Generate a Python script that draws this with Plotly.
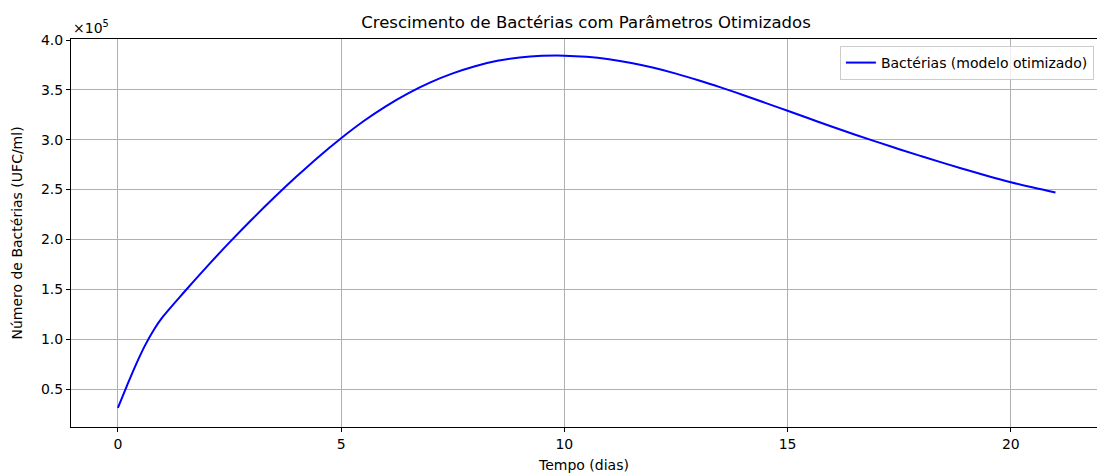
import plotly.graph_objects as go

# Data
days = [0, 0.2, 0.4, 0.6, 0.8, 1.0, 1.5, 2.0, 2.5, 3.0, 3.5, 4.0, 4.5, 5.0,
        5.5, 6.0, 6.5, 7.0, 7.5, 8.0, 8.5, 9.0, 9.5, 10.0, 10.5, 11.0, 11.5,
        12.0, 12.5, 13.0, 13.5, 14.0, 14.5, 15.0, 15.5, 16.0, 16.5, 17.0, 17.5,
        18.0, 18.5, 19.0, 19.5, 20.0, 20.5, 21.0]
bacteria = [31000, 53000, 74000, 93000, 109000, 122000, 148000, 173000, 197000,
            220000, 242000, 263000, 283000, 301500, 318500, 333500, 346500, 357500,
            366500, 373700, 379100, 382500, 384100, 384300, 383100, 380600, 376900,
            372100, 366300, 359700, 352500, 344900, 337000, 329000, 321000, 313000,
            305300, 297800, 290500, 283400, 276500, 269800, 263400, 257400, 252000,
            247000]

x_ticks = [0, 5, 10, 15, 20]
y_ticks = [50000, 100000, 150000, 200000, 250000, 300000, 350000, 400000]
y_tick_labels = ["0.5", "1.0", "1.5", "2.0", "2.5", "3.0", "3.5", "4.0"]

FONT = "DejaVu Sans"

fig = go.Figure()
fig.add_trace(go.Scatter(
    x=days, y=bacteria, mode="lines", line_shape="spline",
    name="Bactérias (modelo otimizado)",
    line=dict(color="#0000ff", width=2),
))

fig.update_layout(
    width=1097, height=475,
    margin=dict(l=71, r=0, t=39, b=48),
    paper_bgcolor="white", plot_bgcolor="white",
    font=dict(family=FONT, size=14, color="black"),
    title=dict(text="Crescimento de Bactérias com Parâmetros Otimizados",
               x=(586 / 1097), xanchor="center", y=1 - 22 / 475, yanchor="middle",
               font=dict(size=16.5, family=FONT, color="black")),
    showlegend=True,
    legend=dict(x=0.997, y=0.982, xanchor="right", yanchor="top",
                bgcolor="rgba(255,255,255,0.8)", bordercolor="#cccccc", borderwidth=1,
                font=dict(size=14, family=FONT)),
)

fig.update_xaxes(
    range=[-1.05, 21.93], tickvals=x_ticks,
    showgrid=True, gridcolor="#b0b0b0", gridwidth=0.8,
    showline=True, linecolor="black", linewidth=1, mirror=True,
    ticks="outside", ticklen=4, tickcolor="black",
    zeroline=False, automargin=False,
    title=dict(text="Tempo (dias)", standoff=9, font=dict(size=14)),
)
fig.update_yaxes(
    range=[11900, 401000], tickvals=y_ticks, ticktext=y_tick_labels,
    showgrid=True, gridcolor="#b0b0b0", gridwidth=0.8,
    showline=True, linecolor="black", linewidth=1, mirror=False,
    ticks="outside", ticklen=4, tickcolor="black",
    zeroline=False, automargin=False,
    title=dict(text="Número de Bactérias (UFC/ml)", standoff=15, font=dict(size=14)),
)

fig.add_annotation(
    text="×10<sup>5</sup>", xref="paper", yref="paper", x=0, y=1,
    xanchor="left", yanchor="bottom", yshift=1, showarrow=False,
    font=dict(size=14, family=FONT, color="black"),
)

fig.write_html("out.html", config={"displayModeBar": False},
               post_script="document.body.style.margin='0';")
